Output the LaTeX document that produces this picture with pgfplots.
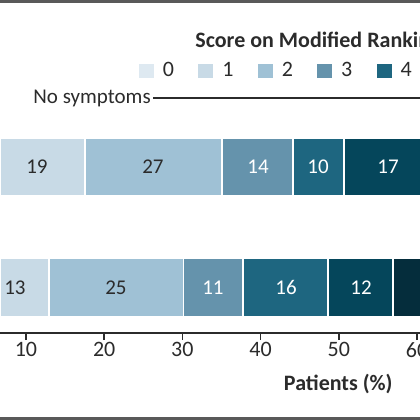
\documentclass[border=0pt]{standalone}
\usepackage{fontspec}
\setmainfont{Carlito}
\usepackage{pgfplots}
\usepackage{pgfplotstable}
\pgfplotsset{compat=1.18}

\definecolor{mrs0}{HTML}{DEE9F1}
\definecolor{mrs1}{HTML}{C8DAE6}
\definecolor{mrs2}{HTML}{9FC1D5}
\definecolor{mrs3}{HTML}{6593AC}
\definecolor{mrs4}{HTML}{1E6680}
\definecolor{mrs5}{HTML}{05465B}
\definecolor{mrs6}{HTML}{052D3C}
\definecolor{ink}{HTML}{2B2B2B}
\definecolor{framegray}{HTML}{595959}

% segment widths in axis units, read off the scale
\pgfplotstableread{
y     w0   w1    w2    w3   w4    w5    w6
167   5.40 12.15 17.51 9.08 6.52  11.24 8.0
287.5 4.25 8.70  17.19 7.57 10.91 8.31  10.0
}\mrsdata

% printed percentages, at the middle of their segments
\pgfplotstableread{
x     y     lab
11.41 167   19
26.24 167   27
8.59  287.5 13
21.51 287.5 25
}\darklabels
\pgfplotstableread{
x     y     lab
39.67 167   14
47.35 167   10
56.29 167   17
33.91 287.5 11
43.25 287.5 16
52.84 287.5 12
}\lightlabels

\begin{document}
\begin{tikzpicture}
\useasboundingbox (0pt,0pt) rectangle (210pt,-210pt);
\clip (0pt,0pt) rectangle (210pt,-210pt);

\begin{axis}[
    at={(0pt,-210pt)}, anchor=south west,
    scale only axis, width=210pt, height=210pt,
    xmin=6.68, xmax=60.38,
    ymin=0, ymax=420, y dir=reverse,
    hide axis,
    xbar stacked, bar width=58.5,
    legend columns=-1,
    legend image code/.code={
        \fill[#1, draw=none] (0pt,-3.6pt) rectangle (7.5pt,3.6pt);
        \path[draw=none, fill=none] (0pt,0pt) -- (12pt,0pt);},
    legend style={at={(axis cs:24.45,71)}, anchor=west, draw=none, fill=none,
        inner sep=0pt, outer sep=0pt, column sep=0pt,
        font=\fontsize{11}{13}\selectfont, text=ink,
        nodes={inner sep=0pt, outer sep=0pt, text width=17.7pt, align=left}},
]
\addplot[fill=mrs0, draw=white, line width=0.9pt] table[x=w0, y=y]{\mrsdata};
\addlegendentry{0}
\addplot[fill=mrs1, draw=white, line width=0.9pt] table[x=w1, y=y]{\mrsdata};
\addlegendentry{1}
\addplot[fill=mrs2, draw=white, line width=0.9pt] table[x=w2, y=y]{\mrsdata};
\addlegendentry{2}
\addplot[fill=mrs3, draw=white, line width=0.9pt] table[x=w3, y=y]{\mrsdata};
\addlegendentry{3}
\addplot[fill=mrs4, draw=white, line width=0.9pt] table[x=w4, y=y]{\mrsdata};
\addlegendentry{4}
\addplot[fill=mrs5, draw=white, line width=0.9pt] table[x=w5, y=y]{\mrsdata};
\addlegendentry{5}
\addplot[fill=mrs6, draw=white, line width=0.9pt] table[x=w6, y=y]{\mrsdata};
\addlegendentry{6}
\end{axis}

% labels inside the bars
\begin{axis}[
    at={(0pt,-210pt)}, anchor=south west,
    scale only axis, width=210pt, height=210pt,
    xmin=6.68, xmax=60.38,
    ymin=0, ymax=420, y dir=reverse,
    hide axis,
    every node near coord/.append style={anchor=center, inner sep=0pt,
        font=\fontsize{10.5}{12}\selectfont},
]
\addplot[only marks, mark=none, nodes near coords, point meta=explicit symbolic,
    every node near coord/.append style={text=ink}]
    table[x=x, y=y, meta=lab]{\darklabels};
\addplot[only marks, mark=none, nodes near coords, point meta=explicit symbolic,
    every node near coord/.append style={text=white}]
    table[x=x, y=y, meta=lab]{\lightlabels};
\end{axis}

% the visible scale
\begin{axis}[
    at={(0pt,-166.5pt)}, anchor=south west,
    scale only axis, width=210pt, height=20pt,
    xmin=6.68, xmax=60.38, ymin=0, ymax=1,
    axis x line*=bottom, axis y line=none,
    xtick={10,20,...,60},
    tick align=outside, major tick length=3.6pt,
    axis line style={draw=ink, line width=1.1pt},
    tick style={draw=ink, line width=0.7pt},
    xticklabel style={font=\fontsize{11}{13}\selectfont, text=ink, inner sep=1pt},
    /pgf/number format/assume math mode=true,
]
\end{axis}

\begin{scope}[x=0.5pt, y=-0.5pt]
\fill[framegray] (0,0) rectangle (420,3.2);
\fill[framegray] (0,416.8) rectangle (420,420);
\node[anchor=base west, inner sep=0, font=\bfseries\fontsize{11}{13}\selectfont, text=ink] at (195,47) {Score on Modified Ranking Scale};
\node[anchor=base west, inner sep=0, font=\fontsize{10.5}{13}\selectfont, text=ink] (ns) at (33,103) {No symptoms};
\draw[ink, line width=0.6pt] ([xshift=1pt]ns.east |- 0,98) -- (420,98);
\node[anchor=base east, inner sep=0, font=\bfseries\fontsize{11}{13}\selectfont, text=ink] at (393,390) {Patients (\%)};
\end{scope}
\end{tikzpicture}
\end{document}
